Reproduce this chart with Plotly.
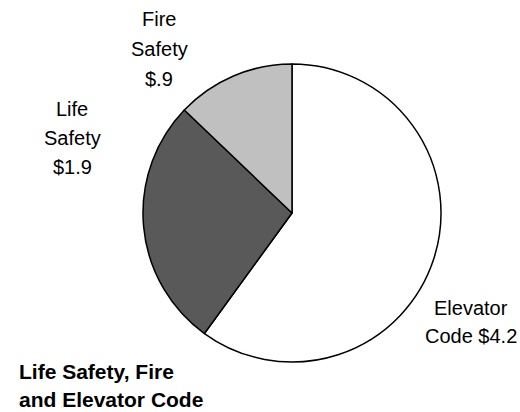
import plotly.graph_objects as go

# data
categories = ["Elevator Code", "Life Safety", "Fire Safety"]
values = [4.2, 1.9, 0.9]
label_lines = [["Elevator", "Code $4.2"], ["Life", "Safety", "$1.9"], ["Fire", "Safety", "$.9"]]
slice_colors = ["#ffffff", "#595959", "#c0c0c0"]
title_lines = ["Life Safety, Fire", "and Elevator Code"]

W, H = 520, 412
FONT = "Liberation Sans, Arial"

fig = go.Figure(go.Pie(
    labels=categories,
    values=values,
    sort=False,
    direction="clockwise",
    rotation=0,
    textinfo="none",
    hoverinfo="label+value",
    marker=dict(colors=slice_colors, line=dict(color="black", width=1.5)),
    domain=dict(x=[143 / W, 441 / W], y=[1 - 362 / H, 1 - 64 / H]),
    showlegend=False,
))

# label anchor points (pixel centres of each first line) and line spacing
label_pos = [(471, 308, 28), (72, 109, 29), (159, 19, 30)]
annotations = []
for lines, (px, py, step) in zip(label_lines, label_pos):
    for k, line in enumerate(lines):
        annotations.append(dict(
            text=line, x=px / W, y=1 - (py + k * step) / H,
            xref="paper", yref="paper", showarrow=False,
            xanchor="center", yanchor="middle",
            font=dict(family=FONT, size=20, color="black"),
        ))

for k, line in enumerate(title_lines):
    annotations.append(dict(
        text=f"<b>{line}</b>", x=17 / W, y=1 - (371 + k * 28) / H,
        xref="paper", yref="paper", showarrow=False,
        xanchor="left", yanchor="middle",
        font=dict(family=FONT, size=21, color="black"),
    ))

fig.update_layout(
    width=W, height=H,
    margin=dict(l=0, r=0, t=0, b=0),
    paper_bgcolor="white", plot_bgcolor="white",
    annotations=annotations,
)

fig.write_html("out.html", config={"displayModeBar": False},
               post_script="document.body.style.margin='0';")
